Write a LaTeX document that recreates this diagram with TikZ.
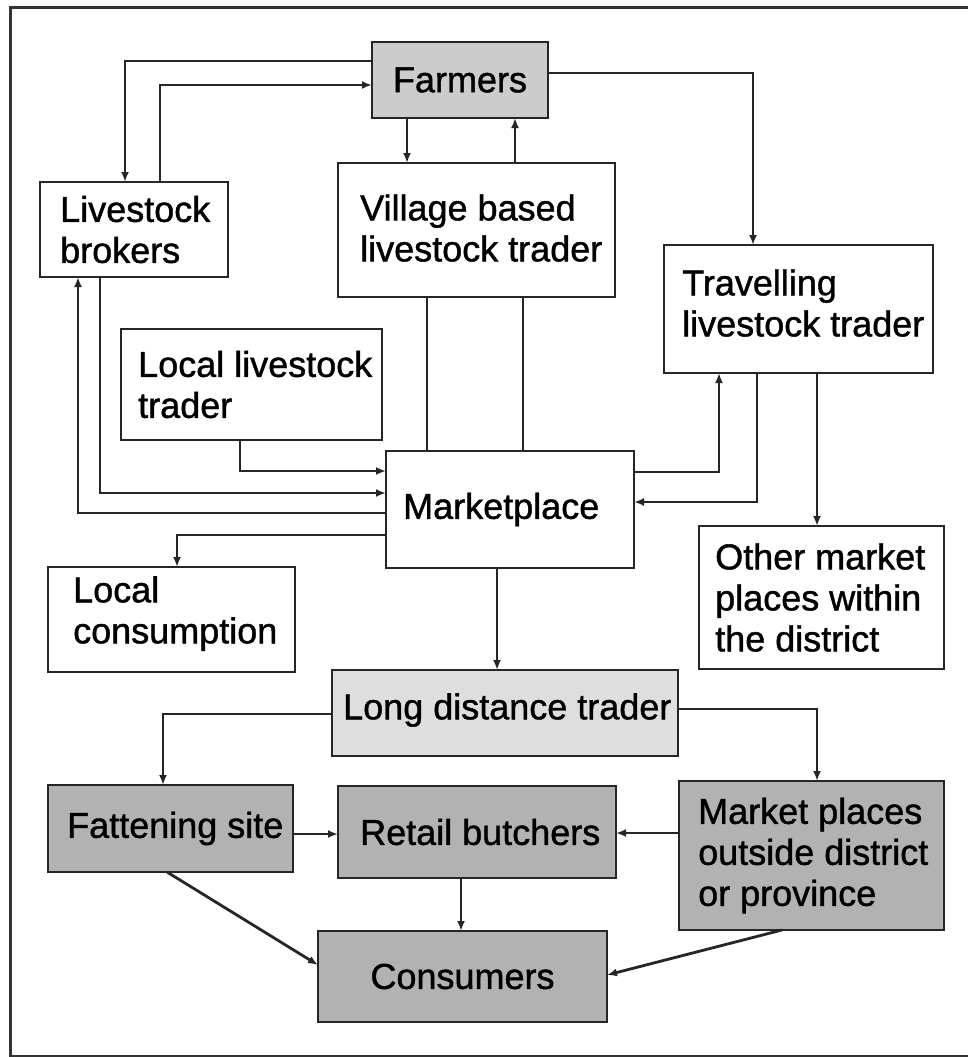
\documentclass[tikz,border=0pt]{standalone}
\usepackage{fontspec}
\setmainfont{Liberation Sans}[FakeBold=1.2]
\newfontfamily\boxfont{Liberation Sans}[FakeBold=1.2]
\usetikzlibrary{arrows.meta}
\begin{document}
\begin{tikzpicture}[x=1pt,y=-1pt,
  box/.style={draw=black!85, line width=2.8pt, rectangle, inner sep=0pt, outer sep=0pt},
  shadelight/.style={fill=black!13},
  shadedark/.style={fill=black!30},
  lbl/.style={inner sep=0pt, anchor=west, align=left, font=\boxfont\fontsize{36}{41}\selectfont},
  ctr/.style={font=\boxfont\fontsize{36}{41}\selectfont},
  arr/.style={draw=black!85, line width=2.8pt, -{Latex[length=10pt,width=8pt]}},
  ln/.style={draw=black!85, line width=2.8pt}]
\useasboundingbox (0,0) rectangle (968,1057);
% outer frame
\draw[line width=3pt, black!80] (968,8) -- (10,8) -- (10,1056) -- (968,1056);

% boxes
\node[box, fill=black!20, minimum width=176, minimum height=76, ctr] (farmers) at (460,80) {Farmers};
\node[box, minimum width=188, minimum height=95] (brokers) at (134,229.5) {};
\node[box, minimum width=277, minimum height=134] (village) at (476.5,230) {};
\node[box, minimum width=269, minimum height=128] (travel) at (798.5,309) {};
\node[box, minimum width=261, minimum height=111] (localtr) at (251.5,384.5) {};
\node[box, minimum width=248, minimum height=117] (market) at (510,509.5) {};
\node[box, minimum width=247, minimum height=105] (localcons) at (171.5,619.5) {};
\node[box, minimum width=245, minimum height=143] (other) at (821.5,597.5) {};
\node[box, shadelight, minimum width=346, minimum height=86] (longd) at (505,713) {};
\node[box, shadedark, minimum width=245, minimum height=87] (fatten) at (170.5,828.5) {};
\node[box, shadedark, minimum width=278, minimum height=92] (retail) at (477,832) {};
\node[box, shadedark, minimum width=265, minimum height=149] (outside) at (811.5,855.5) {};
\node[box, shadedark, minimum width=289, minimum height=91, ctr] (consumers) at (462.5,976.5) {Consumers};

% box texts
\node[lbl] (brokersT) at ([xshift=20pt]brokers.west) {Livestock\\brokers};
\node[lbl] (villageT) at ([xshift=22pt,yshift=2pt]village.west) {Village based\\livestock trader};
\node[lbl] (travelT) at ([xshift=18pt,yshift=6pt]travel.west) {Travelling\\livestock trader};
\node[lbl] (localtrT) at ([xshift=17pt]localtr.west) {Local livestock\\trader};
\node[lbl] (marketT) at ([xshift=17pt]market.west) {Marketplace};
\node[lbl] (localconsT) at ([xshift=25pt,yshift=6pt]localcons.west) {Local\\consumption};
\node[lbl] (otherT) at ([xshift=16pt]other.west) {Other market\\places within\\the district};
\node[lbl] (longdT) at ([xshift=11pt,yshift=3pt]longd.west) {Long distance trader};
\node[lbl] (fattenT) at ([xshift=19pt]fatten.west) {Fattening site};
\node[lbl] (retailT) at ([xshift=22pt]retail.west) {Retail butchers};
\node[lbl] (outsideT) at ([xshift=19pt]outside.west) {Market places\\outside district\\or province};

% bend points and lanes
\coordinate (k1) at (125,61);
\coordinate (k2) at (160,85);
\coordinate (k3) at (407,140);
\coordinate (k4) at (515,140);
\coordinate (k5) at (753,73);
\coordinate (k6) at (427,400);
\coordinate (k7) at (523,400);
\coordinate (k8) at (240,471);
\coordinate (k9) at (100,493);
\coordinate (k10) at (78,513);
\coordinate (k11) at (177,535);
\coordinate (k12) at (719,472);
\coordinate (k13) at (757,502);
\coordinate (k14) at (817,450);
\coordinate (k15) at (497,620);
\coordinate (k16) at (163,714);
\coordinate (k17) at (817,709);
\coordinate (k18) at (310,834);
\coordinate (k19) at (650,833);
\coordinate (k20) at (461,900);
\coordinate (k21) at (167,965);
\coordinate (k22) at (782,975);

% farmers and their traders
\draw[arr] (k1 -| farmers.west) -- (k1) -- (k1 |- brokers.north);
\draw[arr] (k2 |- brokers.north) -- (k2) -- (k2 -| farmers.west);
\draw[arr] (k3 |- farmers.south) -- (k3 |- village.north);
\draw[arr] (k4 |- village.north) -- (k4 |- farmers.south);
\draw[arr] (k5 -| farmers.east) -- (k5) -- (k5 |- travel.north);

% flows around the marketplace
\draw[ln] (k6 |- village.south) -- (k6 |- market.north);
\draw[ln] (k7 |- village.south) -- (k7 |- market.north);
\draw[arr] (k8 |- localtr.south) -- (k8) -- (k8 -| market.west);
\draw[arr] (k9 |- brokers.south) -- (k9) -- (k9 -| market.west);
\draw[arr] (k10 -| market.west) -- (k10) -- (k10 |- brokers.south);
\draw[arr] (k11 -| market.west) -- (k11) -- (k11 |- localcons.north);
\draw[arr] (k12 -| market.east) -- (k12) -- (k12 |- travel.south);
\draw[arr] (k13 |- travel.south) -- (k13) -- (k13 -| market.east);
\draw[arr] (k14 |- travel.south) -- (k14 |- other.north);
\draw[arr] (k15 |- market.south) -- (k15 |- longd.north);

% long distance trade
\draw[arr] (k16 -| longd.west) -- (k16) -- (k16 |- fatten.north);
\draw[arr] (k17 -| longd.east) -- (k17) -- (k17 |- outside.north);
\draw[arr] (k18 -| fatten.east) -- (k18 -| retail.west);
\draw[arr] (k19 -| outside.west) -- (k19 -| retail.east);
\draw[arr] (k20 |- retail.south) -- (k20 |- consumers.north);
\draw[arr] (k21 |- fatten.south) -- (k21 -| consumers.west);
\draw[arr] (k22 |- outside.south) -- (k22 -| consumers.east);
\end{tikzpicture}
\end{document}
